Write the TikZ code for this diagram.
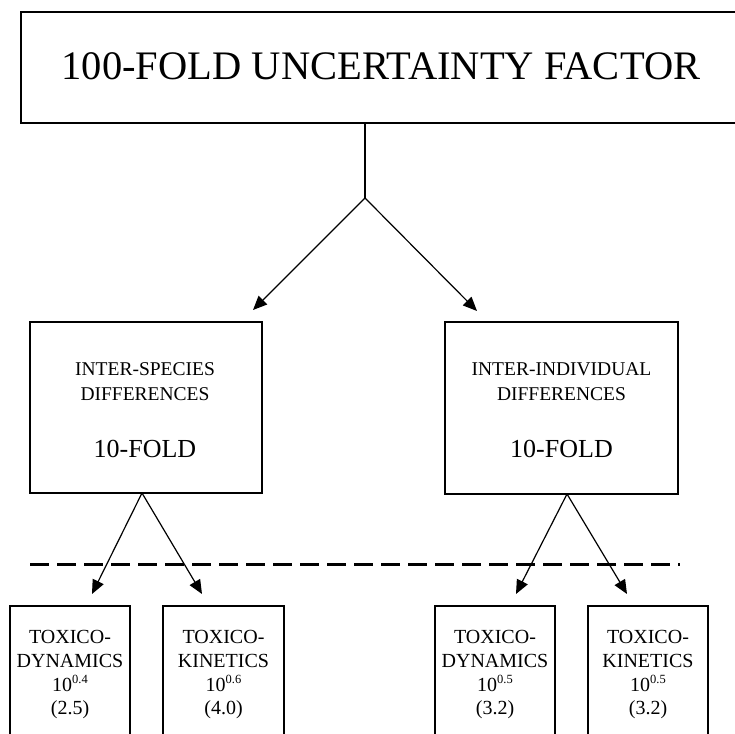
\documentclass[tikz,border=0pt]{standalone}
\usepackage{fontspec}
\setmainfont{Liberation Serif}
\usetikzlibrary{arrows.meta}
\newcommand{\fTop}{\fontsize{40.5}{44}\selectfont}
\newcommand{\fMid}{\fontsize{19.5}{22}\selectfont}
\newcommand{\fBig}{\fontsize{26}{28}\selectfont}
\newcommand{\fBot}{\fontsize{20}{22}\selectfont}
\newcommand{\supx}[1]{\raisebox{7.5pt}{\fontsize{12.5}{12.5}\selectfont #1}}
\begin{document}
\begin{tikzpicture}[x=1pt,y=-1pt,
  box/.style={draw, line width=1.4pt, inner sep=0pt},
  lbl/.style={inner sep=0pt, anchor=base},
  arr/.style={line width=1.2pt, -{Triangle[length=14pt,width=12pt]}},
  dashline/.style={line width=3pt, dash pattern=on 19pt off 8pt}]
\useasboundingbox (0,0) rectangle (735,733);
\clip (0,0) rectangle (735,733);
\fill[white] (0,0) rectangle (735,733);
% boxes
\node[box, minimum width=739pt, minimum height=111pt] (top) at (390.5,67.5) {};
\node[box, minimum width=232pt, minimum height=171pt] (lbox) at (146,407.5) {};
\node[box, minimum width=233pt, minimum height=172pt] (rbox) at (561.5,408) {};
\node[box, minimum width=120pt, minimum height=154pt] (b1) at (70,683) {};
\node[box, minimum width=121pt, minimum height=154pt] (b2) at (223.5,683) {};
\node[box, minimum width=120pt, minimum height=154pt] (b3) at (495,683) {};
\node[box, minimum width=120pt, minimum height=154pt] (b4) at (648,683) {};
% texts
\node[lbl, font=\fTop] (ttop) at (381,80) {100-FOLD UNCERTAINTY FACTOR};
\node[lbl, font=\fMid] (l1) at (145,375) {INTER-SPECIES};
\node[lbl, font=\fMid] (l2) at (145,400) {DIFFERENCES};
\node[lbl, font=\fBig] (l3) at (145,457) {10-FOLD};
\node[lbl, font=\fMid] (r1) at (561.5,375) {INTER-INDIVIDUAL};
\node[lbl, font=\fMid] (r2) at (561.5,400) {DIFFERENCES};
\node[lbl, font=\fBig] (r3) at (561.5,457) {10-FOLD};
\node[lbl, font=\fBot] (b1a) at (70,643) {TOXICO-};
\node[lbl, font=\fBot] (b1b) at (70,667) {DYNAMICS};
\node[lbl, font=\fBot] (b1c) at (70,691) {10\supx{0.4}};
\node[lbl, font=\fBot] (b1d) at (70,714) {(2.5)};
\node[lbl, font=\fBot] (b2a) at (223.5,643) {TOXICO-};
\node[lbl, font=\fBot] (b2b) at (223.5,667) {KINETICS};
\node[lbl, font=\fBot] (b2c) at (223.5,691) {10\supx{0.6}};
\node[lbl, font=\fBot] (b2d) at (223.5,714) {(4.0)};
\node[lbl, font=\fBot] (b3a) at (495,643) {TOXICO-};
\node[lbl, font=\fBot] (b3b) at (495,667) {DYNAMICS};
\node[lbl, font=\fBot] (b3c) at (495,691) {10\supx{0.5}};
\node[lbl, font=\fBot] (b3d) at (495,714) {(3.2)};
\node[lbl, font=\fBot] (b4a) at (648,643) {TOXICO-};
\node[lbl, font=\fBot] (b4b) at (648,667) {KINETICS};
\node[lbl, font=\fBot] (b4c) at (648,691) {10\supx{0.5}};
\node[lbl, font=\fBot] (b4d) at (648,714) {(3.2)};
% connector points
\coordinate (a1) at (365,198);
\coordinate (t1l) at (253,310);
\coordinate (t1r) at (477,311);
\coordinate (a2l) at (142,493);
\coordinate (t2a) at (92,594);
\coordinate (t2b) at (202,594);
\coordinate (a2r) at (567,494);
\coordinate (t2c) at (516,594);
\coordinate (t2d) at (627,594);
\coordinate (dl1) at (30,564);
\coordinate (dl2) at (680,564);
% connectors
\draw[line width=1.2pt] (top.south -| a1) -- (a1);
\draw[arr] (a1) -- (t1l);
\draw[arr] (a1) -- (t1r);
\draw[arr] (a2l) -- (t2a);
\draw[arr] (a2l) -- (t2b);
\draw[arr] (a2r) -- (t2c);
\draw[arr] (a2r) -- (t2d);
\draw[dashline] (dl1) -- (dl2);
\end{tikzpicture}
\end{document}
